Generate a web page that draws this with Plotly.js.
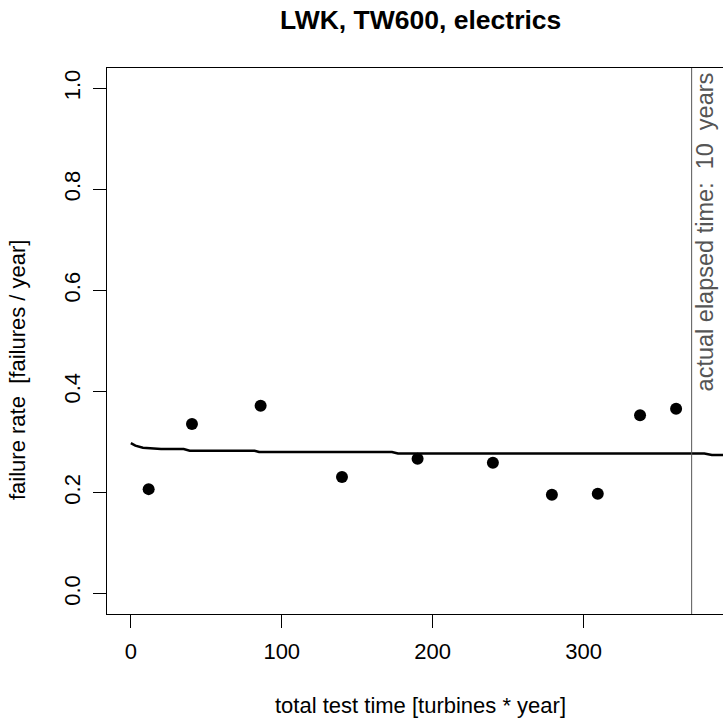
<!DOCTYPE html>
<html>
<head>
<meta charset="utf-8">
<script src="https://cdn.plot.ly/plotly-3.0.1.min.js"></script>
<style>
html, body { margin: 0; padding: 0; overflow: hidden; background: #fff; }
#chart { width: 740px; height: 722px; }
</style>
</head>
<body>
<div id="chart"></div>
<script>
// observed failure rates
var pointX = [11.8, 40.5, 86, 139.9, 190, 239.9, 279, 309.4, 337.4, 361.3];
var pointY = [0.207, 0.336, 0.372, 0.231, 0.267, 0.259, 0.196, 0.198, 0.353, 0.366];
// fitted failure rate curve
var curveX = [0, 3, 8, 14, 20, 35, 39, 82, 85, 173, 177, 380, 385, 400];
var curveY = [0.298, 0.293, 0.289, 0.288, 0.2865, 0.2862, 0.283, 0.283, 0.2805, 0.2805, 0.2775, 0.2775, 0.2745, 0.2745];
// actual elapsed time marker (total test time)
var elapsedX = [371.6];
var elapsedYears = 10;
var xTicks = [0, 100, 200, 300];
var yTicks = [0.0, 0.2, 0.4, 0.6, 0.8, 1.0];
var yTickText = ["0.0", "0.2", "0.4", "0.6", "0.8", "1.0"];

var font = "Liberation Sans, Arial, sans-serif";
var sp = "\u00A0";

var traces = [
  {
    x: curveX, y: curveY, type: "scatter", mode: "lines",
    line: { color: "#000", width: 2.5 }, hoverinfo: "skip"
  },
  {
    x: pointX, y: pointY, type: "scatter", mode: "markers",
    marker: { color: "#000", size: 12, symbol: "circle" }
  },
  {
    x: [elapsedX[0], elapsedX[0]], y: [-0.04, 1.04], type: "scatter", mode: "lines",
    line: { color: "#555", width: 1 }, hoverinfo: "skip"
  }
];

var layout = {
  width: 740, height: 722,
  margin: { l: 107, r: 7, t: 68, b: 108 },
  paper_bgcolor: "#fff", plot_bgcolor: "#fff",
  showlegend: false,
  font: { family: font, size: 22, color: "#000" },
  xaxis: {
    range: [-15.8, 399], tickvals: xTicks, ticktext: xTicks.map(String),
    ticks: "outside", ticklen: 13, tickwidth: 1, tickcolor: "#000",
    showline: true, linecolor: "#000", linewidth: 1.3, mirror: true,
    showgrid: false, zeroline: false,
    tickfont: { family: font, size: 22, color: "#000" }, ticklabelstandoff: 4
  },
  yaxis: {
    range: [-0.04, 1.04], tickvals: yTicks, ticktext: yTickText,
    ticks: "outside", ticklen: 13, tickwidth: 1, tickcolor: "#000",
    showline: true, linecolor: "#000", linewidth: 1.3, mirror: true,
    showgrid: false, zeroline: false, tickangle: -90,
    tickfont: { family: font, size: 22, color: "#000" }, ticklabelstandoff: 4
  },
  annotations: [
    {
      text: "<b>LWK, TW600, electrics</b>", xref: "paper", yref: "paper",
      x: 0.5, y: (614 - 20) / 546, xanchor: "center", yanchor: "middle",
      showarrow: false, font: { family: font, size: 26.5, color: "#000" }
    },
    {
      text: "total test time [turbines * year]", xref: "paper", yref: "paper",
      x: 0.5, y: (614 - 705) / 546, xanchor: "center", yanchor: "middle",
      showarrow: false, font: { family: font, size: 22, color: "#000" }
    },
    {
      text: "failure rate" + sp + sp + "[failures / year]", xref: "paper", yref: "paper",
      x: (17 - 107) / 626, y: (614 - 370) / 546, xanchor: "center", yanchor: "middle",
      textangle: -90, showarrow: false, font: { family: font, size: 22, color: "#000" }
    },
    {
      text: "actual elapsed time:" + sp + sp + elapsedYears + sp + sp + "years",
      xref: "x", yref: "y", x: 380.2, y: 0.716, xanchor: "center", yanchor: "middle",
      textangle: -90, showarrow: false, font: { family: font, size: 23.5, color: "#555" }
    }
  ]
};

Plotly.newPlot("chart", traces, layout, { displayModeBar: false, staticPlot: true });
</script>
</body>
</html>
